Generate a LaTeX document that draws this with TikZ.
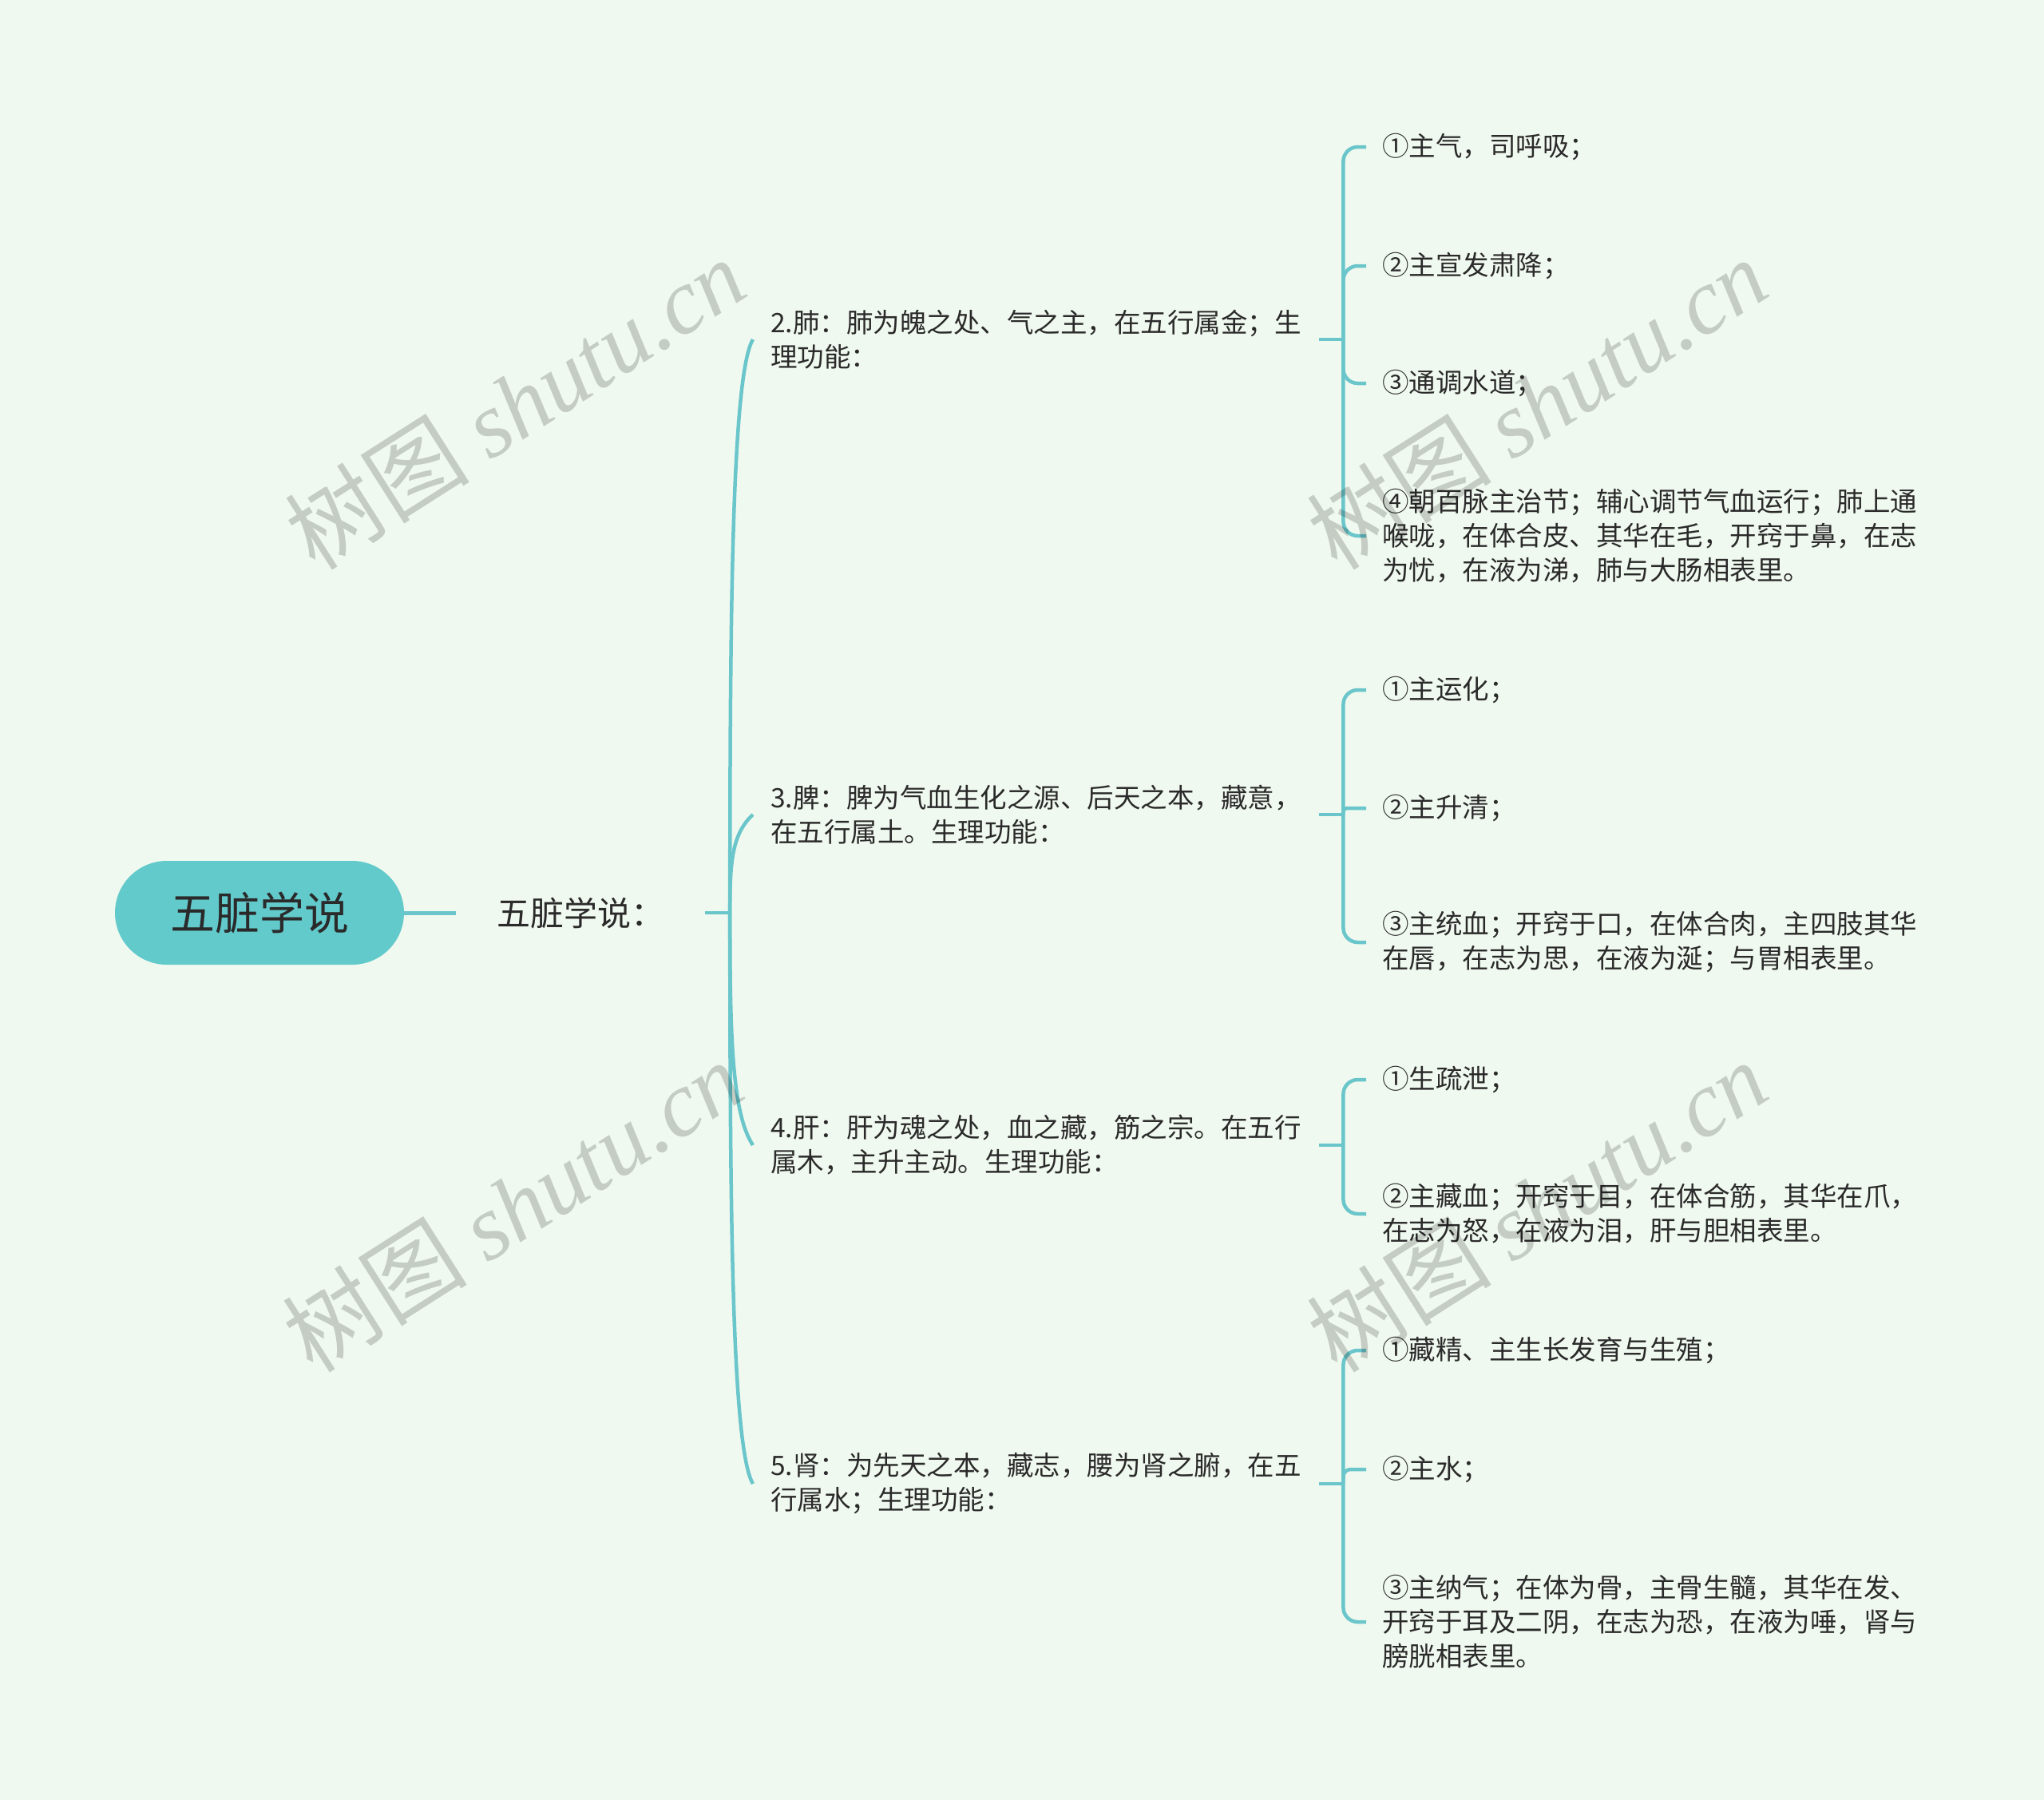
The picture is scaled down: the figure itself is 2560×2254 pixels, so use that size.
\documentclass[tikz,border=0pt]{standalone}
\usepackage{fontspec}
\setmainfont{Noto Sans CJK SC}
\newfontfamily\wmserif{Liberation Serif}
\usetikzlibrary{calc}
\definecolor{bgc}{HTML}{F0F9EF}
\definecolor{lnc}{HTML}{6AC6CB}
\definecolor{rootc}{HTML}{63CACC}
\definecolor{txtc}{HTML}{2A2A2A}
\begin{document}
\begin{tikzpicture}[x=1pt,y=-1pt,
  conn/.style={draw=lnc, line width=4.5pt},
  rootnode/.style={fill=rootc, rounded corners=65pt, minimum width=362pt, minimum height=130pt, inner sep=0pt, font=\fontsize{56}{60}\selectfont, text=txtc},
  mainnode/.style={inner xsep=51pt, inner ysep=0pt, font=\fontsize{42}{50}\selectfont, text=txtc},
  secnode/.style={anchor=west, inner xsep=22pt, inner ysep=0pt, text width=665pt, align=left, font=\fontsize{33.5}{43}\selectfont, text=txtc},
  leafnode/.style={anchor=west, inner xsep=20pt, inner ysep=0pt, align=left, font=\fontsize{33.5}{43}\selectfont, text=txtc},
  wm/.style={rotate=32.5, text=black, opacity=0.18, font=\fontsize{116}{120}\selectfont}
]
\fill[bgc] (0,0) rectangle (2560,2254);
\useasboundingbox (0,0) rectangle (2560,2254);

% root and main
\node[rootnode] (root) at (325,1143) {五脏学说};
\node[mainnode] (main) at (727,1143) {五脏学说：};
\draw[conn, line width=5pt] (root.east) -- (main.west);
\coordinate (mj) at ($(main.east)+(31,0)$);
\draw[conn] (main.east) -- (mj);

% sections
\node[secnode] (s1) at (943,425) {2.肺：肺为魄之处、气之主，在五行属金；生\\理功能：};
\node[secnode] (s2) at (943,1020) {3.脾：脾为气血生化之源、后天之本，藏意，\\在五行属土。生理功能：};
\node[secnode] (s3) at (943,1434) {4.肝：肝为魂之处，血之藏，筋之宗。在五行\\属木，主升主动。生理功能：};
\node[secnode] (s4) at (943,1858) {5.肾：为先天之本，藏志，腰为肾之腑，在五\\行属水；生理功能：};

\draw[conn] (mj) .. controls ($(mj)!0.5!(mj|-s1.west)$) and ($(s1.west)+(-27,45)$) .. (s1.west);
\draw[conn] (mj) .. controls ($(mj)!0.5!(mj|-s2.west)$) and ($(s2.west)+(-27,25)$) .. (s2.west);
\draw[conn] (mj) .. controls ($(mj)!0.5!(mj|-s3.west)$) and ($(s3.west)+(-27,-40)$) .. (s3.west);
\draw[conn] (mj) .. controls ($(mj)!0.5!(mj|-s4.west)$) and ($(s4.west)+(-27,-45)$) .. (s4.west);

% leaves
\node[leafnode] (a1) at (1711,184) {①主气，司呼吸；};
\node[leafnode] (a2) at (1711,333) {②主宣发肃降；};
\node[leafnode] (a3) at (1711,480) {③通调水道；};
\node[leafnode] (a4) at (1711,671) {④朝百脉主治节；辅心调节气血运行；肺上通\\喉咙，在体合皮、其华在毛，开窍于鼻，在志\\为忧，在液为涕，肺与大肠相表里。};

\node[leafnode] (b1) at (1711,864) {①主运化；};
\node[leafnode] (b2) at (1711,1012) {②主升清；};
\node[leafnode] (b3) at (1711,1180) {③主统血；开窍于口，在体合肉，主四肢其华\\在唇，在志为思，在液为涎；与胃相表里。};

\node[leafnode] (c1) at (1711,1352) {①生疏泄；};
\node[leafnode] (c2) at (1711,1520) {②主藏血；开窍于目，在体合筋，其华在爪，\\在志为怒，在液为泪，肝与胆相表里。};

\node[leafnode] (d1) at (1711,1691) {①藏精、主生长发育与生殖；};
\node[leafnode] (d2) at (1711,1840) {②主水；};
\node[leafnode] (d3) at (1711,2031) {③主纳气；在体为骨，主骨生髓，其华在发、\\开窍于耳及二阴，在志为恐，在液为唾，肾与\\膀胱相表里。};

% junctions
\coordinate (j1) at ($(s1.east)+(30,0)$);
\coordinate (j2) at ($(s2.east)+(30,0)$);
\coordinate (j3) at ($(s3.east)+(30,0)$);
\coordinate (j4) at ($(s4.east)+(30,0)$);
\draw[conn] (s1.east) -- (j1);
\draw[conn] (s2.east) -- (j2);
\draw[conn] (s3.east) -- (j3);
\draw[conn] (s4.east) -- (j4);

\draw[conn, rounded corners=18pt] (j1) |- (a1.west);
\draw[conn, rounded corners=18pt] (j1) |- (a2.west);
\draw[conn, rounded corners=18pt] (j1) |- (a3.west);
\draw[conn, rounded corners=18pt] (j1) |- (a4.west);

\draw[conn, rounded corners=18pt] (j2) |- (b1.west);
\draw[conn, rounded corners=4pt] (j2) |- (b2.west);
\draw[conn, rounded corners=18pt] (j2) |- (b3.west);

\draw[conn, rounded corners=18pt] (j3) |- (c1.west);
\draw[conn, rounded corners=18pt] (j3) |- (c2.west);

\draw[conn, rounded corners=18pt] (j4) |- (d1.west);
\draw[conn, rounded corners=9pt] (j4) |- (d2.west);
\draw[conn, rounded corners=18pt] (j4) |- (d3.west);

% watermarks
\node[wm] (w1) at (645,505) {树图 {\wmserif\itshape shutu.cn}};
\node[wm] (w2) at (1925,505) {树图 {\wmserif\itshape shutu.cn}};
\node[wm] (w3) at (642,1510) {树图 {\wmserif\itshape shutu.cn}};
\node[wm] (w4) at (1925,1510) {树图 {\wmserif\itshape shutu.cn}};
\end{tikzpicture}
\end{document}
